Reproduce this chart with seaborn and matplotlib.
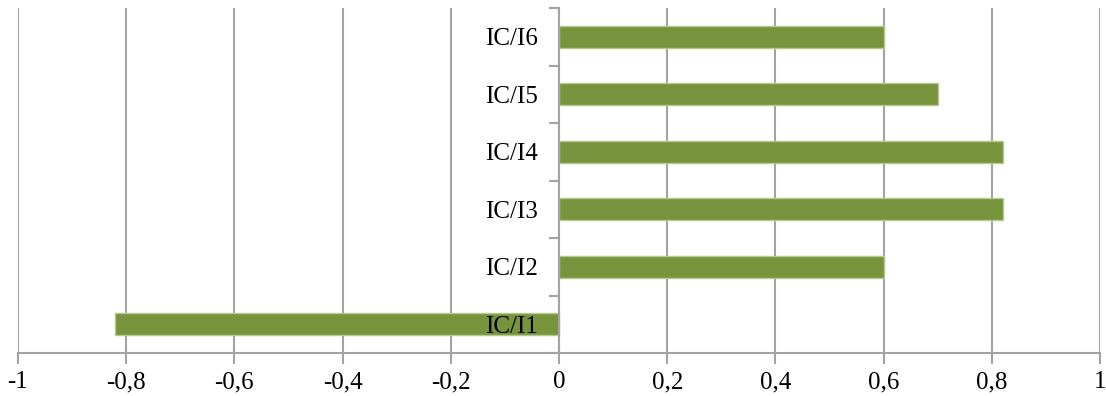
import matplotlib
matplotlib.use("Agg")
import matplotlib.pyplot as plt
import seaborn as sns
import pandas as pd
import numpy as np

# Ratios per indicator pair
categories = ["IC/I6", "IC/I5", "IC/I4", "IC/I3", "IC/I2", "IC/I1"]
values = [0.6, 0.7, 0.82, 0.82, 0.6, -0.82]
x_ticks = [-1, -0.8, -0.6, -0.4, -0.2, 0, 0.2, 0.4, 0.6, 0.8, 1]
x_tick_labels = ["-1", "-0,8", "-0,6", "-0,4", "-0,2", "0", "0,2", "0,4", "0,6", "0,8", "1"]

sns.set_theme(style="white")
plt.rcParams["font.family"] = ["Liberation Serif", "DejaVu Serif"]

df = pd.DataFrame({"category": categories, "value": values})

fig = plt.figure(figsize=(11.06, 3.96), dpi=100)
ax = fig.add_axes([18 / 1106, 43 / 396, 1082 / 1106, 345 / 396])

bar_color = "#77933C"
grid_color = "#a3a3a3"

sns.barplot(data=df, x="value", y="category", order=categories, orient="h",
            color=bar_color, saturation=1, width=0.39, ax=ax,
            edgecolor="#b5c98f", linewidth=1.0)
for p in ax.patches:
    p.set_zorder(1)

ax.set_xlim(-1, 1)
ax.set_ylim(len(categories) - 0.5, -0.5)
ax.set_xlabel("")
ax.set_ylabel("")

# axis (labels and ticks) above the bars, gridlines below them
ax.set_axisbelow(False)
ax.grid(False)
for t in x_ticks:
    ax.axvline(t, color=grid_color, lw=1.5, zorder=0.5)

ax.set_xticks(x_ticks)
ax.set_xticklabels(x_tick_labels, fontsize=18, color="black")
ax.tick_params(axis="x", which="major", direction="out", length=8, width=1.5,
               color=grid_color, pad=5, bottom=True)

# category axis sits at zero
ax.spines["left"].set_position(("data", 0))
for side in ["top", "right"]:
    ax.spines[side].set_visible(False)
for side in ["left", "bottom"]:
    ax.spines[side].set_color(grid_color)
    ax.spines[side].set_linewidth(1.5)

ax.set_yticks(np.arange(len(categories)))
ax.set_yticklabels(categories, fontsize=18, color="black")
ax.set_yticks(np.arange(len(categories) + 1) - 0.5, minor=True)
ax.tick_params(axis="y", which="major", length=0, pad=15, left=True)
ax.tick_params(axis="y", which="minor", direction="out", length=7, width=1.5,
               color=grid_color, left=True)

fig.savefig("out.png", dpi=100, facecolor="white")
